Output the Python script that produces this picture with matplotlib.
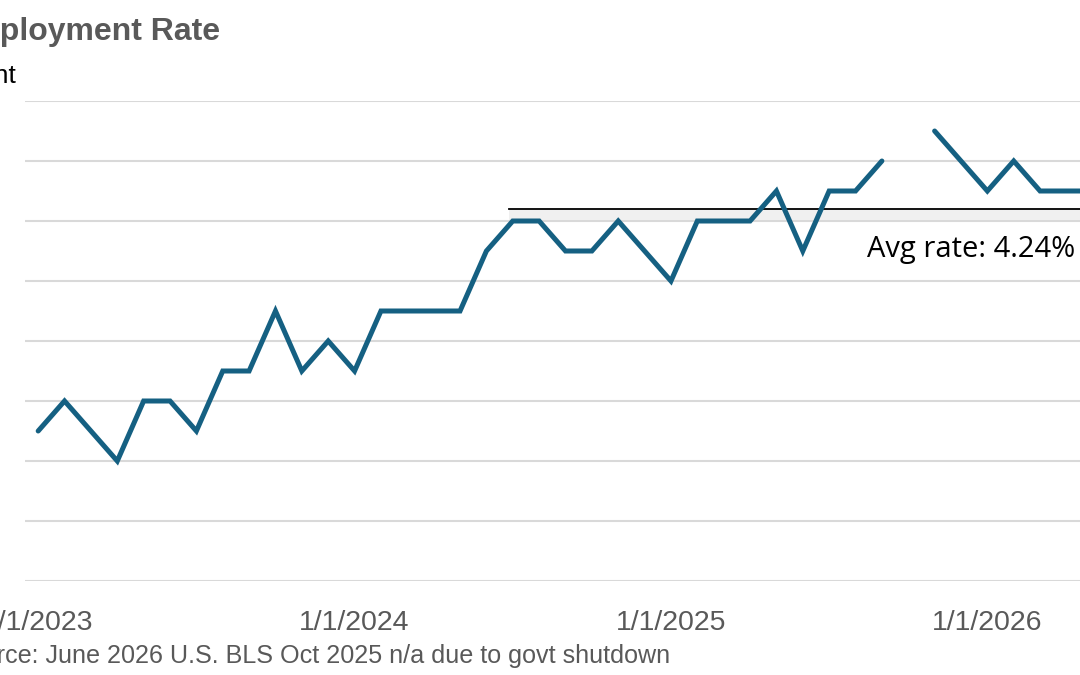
import numpy as np
import matplotlib
matplotlib.use("Agg")
import matplotlib.pyplot as plt

# ---- data ----
months = ["2023-01","2023-02","2023-03","2023-04","2023-05","2023-06","2023-07","2023-08","2023-09","2023-10","2023-11","2023-12",
          "2024-01","2024-02","2024-03","2024-04","2024-05","2024-06","2024-07","2024-08","2024-09","2024-10","2024-11","2024-12",
          "2025-01","2025-02","2025-03","2025-04","2025-05","2025-06","2025-07","2025-08","2025-09","2025-10","2025-11","2025-12",
          "2026-01","2026-02","2026-03","2026-04","2026-05"]
rate = [3.5, 3.6, 3.5, 3.4, 3.6, 3.6, 3.5, 3.7, 3.7, 3.9, 3.7, 3.8,
        3.7, 3.9, 3.9, 3.9, 3.9, 4.1, 4.2, 4.2, 4.1, 4.1, 4.2, 4.1,
        4.0, 4.2, 4.2, 4.2, 4.3, 4.1, 4.3, 4.3, 4.4, np.nan, 4.5, 4.4,
        4.3, 4.4, 4.3, 4.3, 4.3]
avg_rate = 4.24
avg_start = "2024-07"
tick_months = ["2023-01", "2024-01", "2025-01", "2026-01"]
tick_labels = ["1/1/2023", "1/1/2024", "1/1/2025", "1/1/2026"]
y_ticks = [3.0, 3.2, 3.4, 3.6, 3.8, 4.0, 4.2, 4.4, 4.6]

title = "Unemployment Rate"
subtitle = "Percent"
source = "Source: June 2026 U.S. BLS Oct 2025 n/a due to govt shutdown"

W, H = 1080, 675
fig = plt.figure(figsize=(W/100, H/100), dpi=100)

x = np.arange(len(months))
left_px, right_px, top_px, bot_px = 25, 1106, 101, 581
ax = fig.add_axes([left_px/W, 1-bot_px/H, (right_px-left_px)/W, (bot_px-top_px)/H])
ax.set_xlim(-0.5, len(months)-0.5)
ax.set_ylim(y_ticks[0], y_ticks[-1])

for yv in y_ticks:
    ax.axhline(yv, color="#d9d9d9", lw=1.5, zorder=1)

# average line with light shadow band
xs = months.index(avg_start) - 0.15
ax.fill_between([xs, len(months)], [avg_rate-0.035]*2, [avg_rate]*2, color="#f0f0f0", lw=0, zorder=2)
ax.plot([xs, len(months)], [avg_rate, avg_rate], color="black", lw=1.3, zorder=3)

ax.plot(x, rate, color="#156082", lw=3.6, solid_capstyle="round", solid_joinstyle="miter", zorder=4)

ax.text(months.index("2025-09") - 0.57, 4.08, f"Avg rate: {avg_rate:.2f}%",
        fontsize=21, family="Open Sans", color="black", va="baseline", ha="left")

ax.set_xticks([months.index(m) for m in tick_months])
ax.set_xticklabels(tick_labels, family="Liberation Sans", fontsize=20.5, color="#595959")
ax.tick_params(axis="x", length=0, pad=21)
ax.set_yticks([])
for s in ax.spines.values():
    s.set_visible(False)

fig.text(220/W, 1-40/H, title, ha="right", va="baseline", fontsize=23, fontweight="bold",
         color="#595959", family="Liberation Sans")
fig.text(17/W, 1-83/H, subtitle, ha="right", va="baseline", fontsize=19, color="black", family="Liberation Sans")
fig.text(670/W, 1-663/H, source, ha="right", va="baseline", fontsize=18.05, color="#595959", family="Liberation Sans")

fig.savefig("out.png", dpi=100)
